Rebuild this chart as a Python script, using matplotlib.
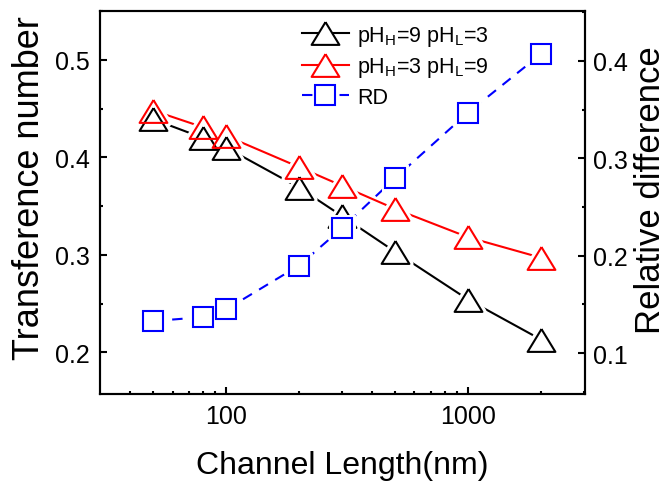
import numpy as np
import matplotlib
matplotlib.use('Agg')
import matplotlib.pyplot as plt
from matplotlib.ticker import FixedLocator, MultipleLocator, NullFormatter, FuncFormatter

plt.rcParams['font.family'] = ['Liberation Sans', 'DejaVu Sans']
plt.rcParams['mathtext.fontset'] = 'custom'
plt.rcParams['mathtext.rm'] = 'Liberation Sans'

length = [50, 80, 100, 200, 300, 500, 1000, 2000]
t_9_3 = [0.439, 0.420, 0.410, 0.369, 0.340, 0.303, 0.254, 0.213]
t_3_9 = [0.448, 0.431, 0.422, 0.390, 0.371, 0.347, 0.318, 0.297]
rd = [0.133, 0.137, 0.145, 0.190, 0.228, 0.280, 0.347, 0.407]

# squat triangle like the original
tri = [(0, 0.82), (-1, -0.82), (1, -0.82), (0, 0.82)]

fig = plt.figure(figsize=(6.7, 4.89), dpi=100)
ax = fig.add_axes([0.149, 0.192, 0.724, 0.783])
ax2 = ax.twinx()

# lines first, then a white halo so the line stops short of each marker
l1, = ax.plot(length, t_9_3, color='black', lw=1.5, marker=tri, ms=20,
              mfc='white', mec='black', mew=1.5, label=r'pH$_\mathregular{H}$=9 pH$_\mathregular{L}$=3')
l2, = ax.plot(length, t_3_9, color='red', lw=1.5, marker=tri, ms=20,
              mfc='white', mec='red', mew=1.5, label=r'pH$_\mathregular{H}$=3 pH$_\mathregular{L}$=9')
for y in (t_9_3, t_3_9):
    ax.plot(length, y, ls='none', marker=tri, ms=20, mfc='white', mec='white', mew=6, zorder=2.5)
ax.plot(length, t_9_3, ls='none', marker=tri, ms=20, mfc='none', mec='black', mew=1.5, zorder=3)
ax.plot(length, t_3_9, ls='none', marker=tri, ms=20, mfc='none', mec='red', mew=1.5, zorder=3)

l3, = ax2.plot(length, rd, color='blue', lw=1.5, dashes=(5, 4), marker='s', ms=15,
               mfc='white', mec='blue', mew=1.5, label='RD')
ax2.plot(length, rd, ls='none', marker='s', ms=15, mfc='none', mec='white', mew=5, zorder=2.5)
ax2.plot(length, rd, ls='none', marker='s', ms=15, mfc='none', mec='blue', mew=1.5, zorder=3)

ax.set_xscale('log')
ax.set_xlim(30, 3040)
ax.set_ylim(0.157, 0.55)
ax2.set_ylim(0.058, 0.451)

ax.xaxis.set_major_locator(FixedLocator([100, 1000]))
ax.xaxis.set_major_formatter(FuncFormatter(lambda v, p: '%d' % v))
ax.xaxis.set_minor_locator(FixedLocator([40, 50, 60, 70, 80, 90, 200, 300, 400, 500,
                                         600, 700, 800, 900, 2000, 3000]))
ax.xaxis.set_minor_formatter(NullFormatter())
ax.yaxis.set_major_locator(MultipleLocator(0.1))
ax.yaxis.set_minor_locator(MultipleLocator(0.05))
ax2.yaxis.set_major_locator(MultipleLocator(0.1))
ax2.yaxis.set_minor_locator(MultipleLocator(0.05))

for a in (ax, ax2):
    a.tick_params(which='major', direction='in', length=5, width=1.5, labelsize=18)
    a.tick_params(which='minor', direction='in', length=2.5, width=1.5)
    for s in a.spines.values():
        s.set_linewidth(1.5)
ax.tick_params(axis='x', which='both', top=False, pad=7)
ax.tick_params(axis='y', pad=7)
ax2.tick_params(axis='y', pad=5.5)

ax.set_xlabel('Channel Length(nm)', fontsize=23, labelpad=16)
ax.set_ylabel('Transference number', fontsize=26, labelpad=6)
ax2.set_ylabel('Relative difference', fontsize=25, labelpad=5)
ax.yaxis.label.set_y(0.542)
ax2.yaxis.label.set_y(0.535)

ax2.legend(handles=[l1, l2, l3], loc='upper left', bbox_to_anchor=(0.398, 0.99),
           frameon=False, fontsize=15.5, handlelength=2.2, handletextpad=0.37,
           labelspacing=0.35, borderaxespad=0)

fig.savefig('out.png', dpi=100)
